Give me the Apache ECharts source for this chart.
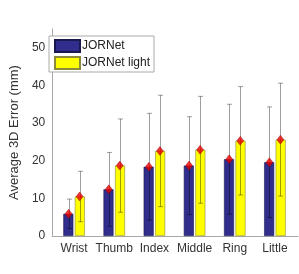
<!DOCTYPE html>
<html><head><meta charset="utf-8">
<script src="https://cdn.jsdelivr.net/npm/echarts@6/dist/echarts.min.js"></script>
<style>html,body{margin:0;padding:0;background:#fff}#c{width:299px;height:274px}</style>
</head><body><div id="c"></div>
<script>
const categories = ['Wrist','Thumb','Index','Middle','Ring','Little'];
const jornetMean = [5.9, 12.4, 18.4, 18.7, 20.4, 19.6];
const jornetStd = [3.9, 9.8, 14.2, 13.0, 14.6, 14.7];
const lightMean = [10.5, 18.7, 22.6, 22.9, 25.3, 25.6];
const lightStd = [6.7, 12.4, 14.8, 14.2, 14.4, 15.0];
const seriesNames = ['JORNet', 'JORNet light'];
const yTicks = [0, 10, 20, 30, 40, 50];

const OFF = 5.5;
function errItem(meanArr, stdArr, off) {
  return function (params, api) {
    const i = api.value(0);
    const m = meanArr[i], s = stdArr[i];
    const top = api.coord([i, m + s]);
    const bot = api.coord([i, m - s]);
    const x = Math.round(top[0] + off) + 0.5;
    const st = {stroke: 'rgba(0,0,0,0.38)', lineWidth: 1};
    return {type: 'group', children: [
      {type: 'line', shape: {x1: x, y1: top[1], x2: x, y2: bot[1]}, style: st},
      {type: 'line', shape: {x1: x - 2.5, y1: top[1], x2: x + 2.5, y2: top[1]}, style: st},
      {type: 'line', shape: {x1: x - 2.5, y1: bot[1], x2: x + 2.5, y2: bot[1]}, style: st}
    ]};
  };
}
const chart = echarts.init(document.getElementById('c'));
const font = 'Liberation Sans, Arial, sans-serif';
chart.setOption({
  animation: false,
  grid: [
    {left: 42, right: 1, top: 29, bottom: 38},
    {left: 54, width: 241, top: 29, bottom: 38}
  ],
  xAxis: [
    {gridIndex: 0, type: 'value', min: 0, max: 1, axisLabel: {show: false}, axisTick: {show: false}, splitLine: {show: false},
     axisLine: {lineStyle: {color: '#a8a8a8', width: 1}}},
    {gridIndex: 1, type: 'category', data: categories, axisLine: {show: false}, axisTick: {show: false},
     axisLabel: {color: '#333', fontSize: 12, fontFamily: font, margin: 7, interval: 0}}
  ],
  yAxis: [
    {gridIndex: 0, type: 'value', min: 0, max: 55, interval: 10, splitLine: {show: false},
     axisLine: {show: true, lineStyle: {color: '#a8a8a8', width: 1}}, axisTick: {show: false},
     axisLabel: {color: '#333', fontSize: 12, fontFamily: font, margin: 7, customValues: yTicks},
     name: 'Average 3D Error (mm)', nameLocation: 'middle', nameGap: 21, nameRotate: 90,
     nameTextStyle: {color: '#333', fontSize: 13, fontFamily: font}},
    {gridIndex: 1, type: 'value', min: 0, max: 55, show: false}
  ],
  legend: {
    orient: 'vertical', left: 49, top: 36, padding: [3, 4, 2, 5], itemGap: 3,
    itemWidth: 25, itemHeight: 12, borderColor: '#aaa', borderWidth: 1, backgroundColor: '#fff',
    textStyle: {color: '#222', fontSize: 12, fontFamily: font, padding: [0, 0, 0, -3]},
    data: [{name: seriesNames[0], icon: 'rect'}, {name: seriesNames[1], icon: 'rect'}]
  },
  series: [
    {name: seriesNames[0], type: 'bar', xAxisIndex: 1, yAxisIndex: 1, data: jornetMean, barWidth: 10, barGap: '15%',
     itemStyle: {color: '#302d8c', borderColor: '#1a1850', borderWidth: 0.6}},
    {name: seriesNames[1], type: 'bar', xAxisIndex: 1, yAxisIndex: 1, data: lightMean, barWidth: 10,
     itemStyle: {color: '#ffff00', borderColor: '#8c8a3c', borderWidth: 0.6}},
    {type: 'custom', xAxisIndex: 1, yAxisIndex: 1, renderItem: errItem(jornetMean, jornetStd, -OFF),
     data: categories.map((c, i) => [i, jornetMean[i]]), z: 5},
    {type: 'custom', xAxisIndex: 1, yAxisIndex: 1, renderItem: errItem(lightMean, lightStd, OFF),
     data: categories.map((c, i) => [i, lightMean[i]]), z: 5},
    {type: 'scatter', xAxisIndex: 1, yAxisIndex: 1, data: jornetMean, symbol: 'diamond', symbolSize: [7, 9],
     symbolOffset: [-OFF, 0], itemStyle: {color: '#ee0000', borderColor: '#8a0000', borderWidth: 0.5}, z: 6},
    {type: 'scatter', xAxisIndex: 1, yAxisIndex: 1, data: lightMean, symbol: 'diamond', symbolSize: [7, 9],
     symbolOffset: [OFF, 0], itemStyle: {color: '#ee0000', borderColor: '#8a0000', borderWidth: 0.5}, z: 6}
  ]
});
</script></body></html>
